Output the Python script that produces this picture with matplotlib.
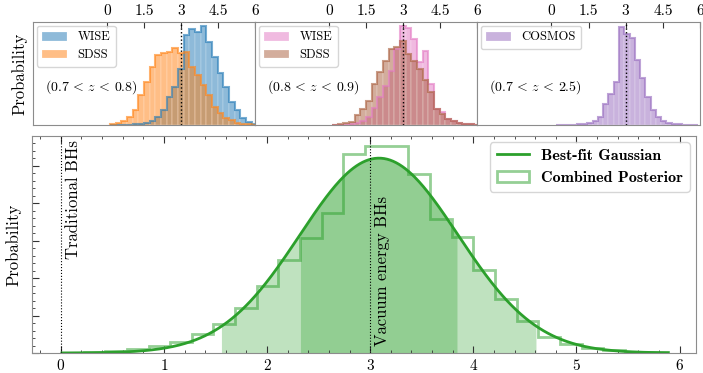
import numpy as np
import matplotlib.pyplot as plt
from matplotlib.font_manager import FontProperties

plt.rcParams['font.family'] = 'cmr10'
plt.rcParams['mathtext.fontset'] = 'cm'
plt.rcParams['axes.formatter.use_mathtext'] = True
plt.rcParams['axes.edgecolor'] = '#8c8c8c'
plt.rcParams['xtick.color'] = '#333333'
plt.rcParams['ytick.color'] = '#333333'
plt.rcParams['xtick.labelcolor'] = 'black'

# --- dados ---
top_ticks = [0, 1.5, 3, 4.5, 6]
top_tick_labels = ['0', '1.5', '3', '4.5', '6']

edges_top = np.linspace(0.12, 6.1, 27)      # paineis 1 e 2
edges_cosmos = np.linspace(0.174, 5.925, 28)  # painel 3

wise_1 = [0, 0, 0, 0.3, 0.5, 1, 2, 4, 8, 15, 28, 38, 56, 90, 96, 93, 99, 83,
          68, 52, 38, 23, 15, 7, 3, 1]
sdss_1 = [1, 2, 4, 8, 15, 30, 43, 58, 70, 72, 73, 77, 72, 73, 58, 50, 40, 30,
          18, 12, 7, 5, 2, 1, 0.5, 0.3]
wise_2 = [0, 0, 0, 1, 2, 4, 8, 17, 28, 39, 54, 76, 99, 97, 86, 63, 74, 41,
          16, 13, 6, 4, 2, 1, 0.5, 0.2]
sdss_2 = [0.4, 0.8, 1.5, 3, 10, 16, 24, 41, 53, 64, 76, 78, 84, 71, 64, 56, 45,
          33, 16, 11, 6, 4, 2, 1, 0.5, 0.2]
cosmos = [0.1, 0.2, 0.3, 0.4, 0.6, 1, 2, 4, 8, 21, 31, 43, 98, 91, 87, 65, 47,
          28, 15, 8, 4, 2, 1, 0.5, 0.3, 0.2, 0.1]

z_labels = [r'$(0.7\,<\,z\,<\,0.8)$', r'$(0.8\,<\,z\,<\,0.9)$',
            r'$(0.7\,<\,z\,<\,2.5)$']

edges_comb = np.linspace(0.01, 5.89, 29)
combined = [0.001, 0.0035, 0.006, 0.011, 0.019, 0.030, 0.051, 0.078, 0.121,
            0.179, 0.249, 0.307, 0.375, 0.532, 0.554, 0.554, 0.478, 0.358,
            0.311, 0.222, 0.144, 0.086, 0.044, 0.024, 0.013, 0.007, 0.004,
            0.002]
mu, sigma = 3.085, 0.766

W, H = 703, 373
fig = plt.figure(figsize=(W / 100, H / 100), dpi=100)


def px_axes(l, t, r, b):
    return fig.add_axes([l / W, 1 - b / H, (r - l) / W, (b - t) / H])


def top_hist(ax, edges, h, color, label):
    ax.hist(edges[:-1], bins=edges, weights=h, color=color, alpha=0.5,
            label=label, edgecolor='white', lw=0.3)
    ax.hist(edges[:-1], bins=edges, weights=h, color=color, alpha=0.6,
            histtype='step', lw=1.5)


panels = [
    (33, 255, [(edges_top, wise_1, 'tab:blue', 'WISE'),
               (edges_top, sdss_1, 'tab:orange', 'SDSS')]),
    (255, 477, [(edges_top, wise_2, 'tab:pink', 'WISE'),
                (edges_top, sdss_2, '#a85c3a', 'SDSS')]),
    (477, 700, [(edges_cosmos, cosmos, 'tab:purple', 'COSMOS')]),
]

for i, (l, r, hists) in enumerate(panels):
    ax = px_axes(l, 22, r, 125)
    for e, h, c, lab in hists:
        top_hist(ax, e, h, c, lab)
    ax.axvline(3, color='black', ls=':', lw=1)
    ax.set_xlim(-3, 6)
    ax.set_ylim(0, 102.5)
    ax.set_xticks(top_ticks)
    ax.set_xticklabels(top_tick_labels)
    ax.xaxis.tick_top()
    ax.tick_params(axis='x', direction='in', length=4, labelsize=11, pad=3)
    ax.set_yticks([])
    ax.text(0.055, 0.37, z_labels[i], transform=ax.transAxes, fontsize=10,
            va='center', ha='left')
    ax.legend(loc='upper left', fontsize=9, borderaxespad=0.3,
              handlelength=2.0, labelspacing=0.45, borderpad=0.45)
    if i == 0:
        ax.set_ylabel('Probability', fontsize=12, labelpad=4)

# --- painel inferior ---
ax = px_axes(32, 136, 696, 353)
xs = np.linspace(edges_comb[0], edges_comb[-1], 400)
gauss = np.exp(-0.5 * ((xs - mu) / sigma) ** 2) / (sigma * np.sqrt(2 * np.pi))

m2 = (xs >= mu - 2 * sigma) & (xs <= mu + 2 * sigma)
m1 = (xs >= mu - sigma) & (xs <= mu + sigma)
ax.fill_between(xs[m2], 0, gauss[m2], color='tab:green', alpha=0.3, lw=0)
ax.fill_between(xs[m1], 0, gauss[m1], color='tab:green', alpha=0.3, lw=0)
ax.hist(edges_comb[:-1], bins=edges_comb, weights=combined, histtype='step',
        color='tab:green', alpha=0.5, lw=2, label='Combined Posterior')
ax.plot(xs, gauss, color='tab:green', lw=2, label='Best-fit Gaussian')

ax.axvline(0, color='black', ls=':', lw=0.8)
ax.axvline(3, color='black', ls=':', lw=0.8)
ax.text(0.12, 0.57, 'Traditional BHs', rotation=90, va='top', ha='center',
        fontsize=12)
ax.text(3.12, 0.02, 'Vacuum energy BHs', rotation=90, va='bottom',
        ha='center', fontsize=12)

ax.set_xlim(-0.28, 6.16)
ax.set_ylim(0, 0.58)
ax.set_xticks(range(7))
ax.set_xticks(np.arange(-0.2, 6.2, 0.2), minor=True)
ax.set_yticks(np.arange(0, 0.6, 0.1))
ax.set_yticks(np.arange(0, 0.58, 0.02), minor=True)
ax.set_yticklabels([])
ax.tick_params(which='both', direction='in', top=True, labelsize=11)
ax.tick_params(which='major', length=5)
ax.tick_params(which='minor', length=2.5)
ax.set_ylabel('Probability', fontsize=12, labelpad=4)

hd, lb = ax.get_legend_handles_labels()
ax.legend(hd[::-1], lb[::-1], loc='upper right',
          prop=FontProperties(family='cmb10', size=11.5), borderaxespad=0.4,
          handlelength=2.0)

fig.savefig('out.png', dpi=100)
